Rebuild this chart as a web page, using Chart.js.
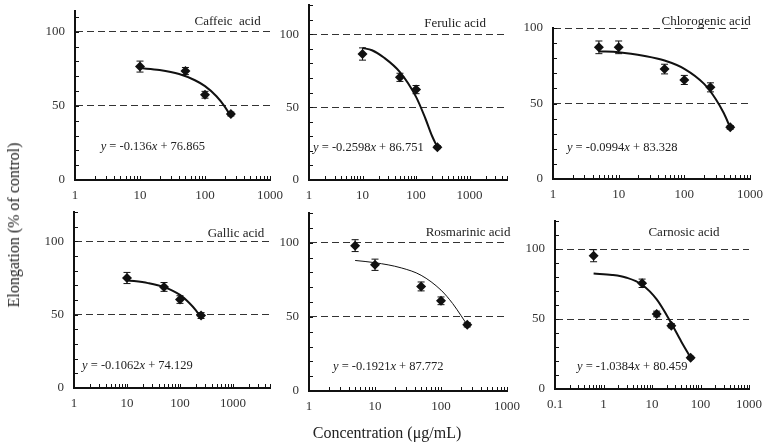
<!DOCTYPE html>
<html>
<head>
<meta charset="utf-8">
<script src="https://cdn.jsdelivr.net/npm/chart.js@4.4.1/dist/chart.umd.min.js"></script>
<style>
  html, body { margin: 0; padding: 0; background: #fff; }
  #wrap { position: relative; width: 764px; height: 448px; overflow: hidden; background: #fff; }
  #wrap canvas { position: absolute; left: 0; top: 0; }
  .atitle { position: absolute; font-family: "Liberation Serif", serif; font-size: 16px; color: #222; white-space: nowrap; }
</style>
</head>
<body>
<div id="wrap">
  <canvas id="c0" width="764" height="448"></canvas>
  <canvas id="c1" width="764" height="448"></canvas>
  <canvas id="c2" width="764" height="448"></canvas>
  <canvas id="c3" width="764" height="448"></canvas>
  <canvas id="c4" width="764" height="448"></canvas>
  <canvas id="c5" width="764" height="448"></canvas>
  <div class="atitle" style="left:14px; top:225px; transform: translate(-50%,-50%) rotate(-90deg);">Elongation (% of control)</div>
  <div class="atitle" style="left:387px; top:433px; transform: translate(-50%,-50%);">Concentration (μg/mL)</div>
</div>
<script>
// panel names and trend line equations
const acidNames = ['Caffeic  acid', 'Ferulic acid', 'Chlorogenic acid', 'Gallic acid', 'Rosmarinic acid', 'Carnosic acid'];
const slopes = ['-0.136', '-0.2598', '-0.0994', '-0.1062', '-0.1921', '-1.0384'];
const intercepts = ['76.865', '86.751', '83.328', '74.129', '87.772', '80.459'];

// measured points (concentration in µg/mL, elongation in % of control, error)
const caffeicConc = [10, 50, 100, 250];
const caffeicElong = [76.5, 73.5, 57.5, 44.5];
const caffeicErr = [3.7, 2.4, 2.3, 1.3];
const ferulicConc = [10, 50, 100, 250];
const ferulicElong = [86.4, 70.4, 62, 22.5];
const ferulicErr = [4.2, 2.8, 2.8, 1];
const chloroConc = [5, 10, 50, 100, 250, 500];
const chloroElong = [87.2, 87.2, 72.8, 65.6, 60.7, 34.2];
const chloroErr = [4.2, 4.2, 3.2, 3, 3, 1.2];
const gallicConc = [10, 50, 100, 250];
const gallicElong = [75, 68.9, 60.3, 49.4];
const gallicErr = [3.8, 3, 2.6, 2];
const rosmaConc = [5, 10, 50, 100, 250];
const rosmaElong = [98, 85.1, 70.5, 60.8, 44.6];
const rosmaErr = [4, 3.8, 3, 2.6, 1.4];
const carnoConc = [0.625, 6.25, 12.5, 25, 62.5];
const carnoElong = [95.2, 75.5, 53.6, 45.2, 22.4];
const carnoErr = [4.3, 3, 2, 1.5, 1];

// trend curves
const caffeicFitX = [10, 20, 40, 70, 100, 150, 200, 250];
const caffeicFitY = [75.5, 74.2, 71.5, 67.3, 63.3, 56.5, 49.7, 43];
const ferulicFitX = [10, 15, 25, 50, 100, 150, 200, 250];
const ferulicFitY = [90.5, 89, 84, 74, 57, 42, 30, 22.5];
const chloroFitX = [5, 10, 25, 50, 100, 200, 300, 400, 500];
const chloroFitY = [84.5, 84, 81.5, 78.5, 73, 63, 53, 43.5, 34];
const gallicFitX = [10, 25, 50, 100, 150, 200, 250];
const gallicFitY = [73.5, 71.5, 68.8, 63.5, 58, 53, 48];
const rosmaFitX = [5, 10, 25, 50, 100, 150, 200, 250];
const rosmaFitY = [88, 86.5, 83, 78, 68, 59, 51, 44.5];
const carnoFitX = [0.625, 1.5, 3, 6.25, 12.5, 25, 40, 62.5];
const carnoFitY = [82.5, 81.5, 79.5, 74.5, 64, 47, 34, 22.5];

// axis tick labels
const xLabelsA = [1, 10, 100, 1000];
const xLabelsC = [0.1, 1, 10, 100, 1000];
const yLabels = [0, 50, 100];

// layout of each panel (pixels) and axis ranges
const panelBox = [
  { left: 75, right: 270, top: 11, bottom: 180, xmin: 1, xmax: 1000, ymax: 114, labels: xLabelsA },
  { left: 309, right: 507, top: 3, bottom: 180, xmin: 1, xmax: 5000, ymax: 120, labels: xLabelsA },
  { left: 553, right: 750, top: 28, bottom: 179, xmin: 1, xmax: 1000, ymax: 100, labels: xLabelsA },
  { left: 74, right: 270, top: 212, bottom: 388, xmin: 1, xmax: 5000, ymax: 120, labels: xLabelsA },
  { left: 309, right: 507, top: 213, bottom: 391, xmin: 1, xmax: 1000, ymax: 120, labels: xLabelsA },
  { left: 555, right: 749, top: 221, bottom: 389, xmin: 0.1, xmax: 1000, ymax: 120, labels: xLabelsC }
];
// where the panel name (centre) and the equation (left edge) sit, in data units
const namePos = [[223, 107], [536, 107.2], [215, 104.2], [1140, 105.6], [257, 107], [45.7, 111.6]];
const eqPos = [[2.48, 22.5], [1.19, 22.1], [1.63, 21], [1.42, 15], [2.31, 16.4], [0.284, 15.9]];

const series = [
  [caffeicConc, caffeicElong, caffeicErr, caffeicFitX, caffeicFitY],
  [ferulicConc, ferulicElong, ferulicErr, ferulicFitX, ferulicFitY],
  [chloroConc, chloroElong, chloroErr, chloroFitX, chloroFitY],
  [gallicConc, gallicElong, gallicErr, gallicFitX, gallicFitY],
  [rosmaConc, rosmaElong, rosmaErr, rosmaFitX, rosmaFitY],
  [carnoConc, carnoElong, carnoErr, carnoFitX, carnoFitY]
];

const FONT = '"Liberation Serif", "Times New Roman", serif';
const INK = '#111';

// minor log ticks between the labelled decades
function logTicks(min, max) {
  let out = [];
  for (let dec = min; dec < max; dec *= 10) {
    for (let d = 1; d < 10; d++) {
      let v = dec * d;
      if (v > max * 1.0001) break;
      out.push(v);
    }
  }
  out.push(max);
  return out;
}

function zeroPad(s) {
  s.paddingLeft = 0; s.paddingRight = 0; s.paddingTop = 0; s.paddingBottom = 0;
}

const decoPlugin = {
  id: 'deco',
  afterDatasetsDraw(chart) {
    // error bars
    const ctx = chart.ctx;
    const y = chart.scales.y;
    const meta = chart.getDatasetMeta(0);
    const errs = chart.data.datasets[0].errors;
    ctx.save();
    ctx.strokeStyle = INK;
    ctx.lineWidth = 1;
    meta.data.forEach((pt, i) => {
      const v = chart.data.datasets[0].data[i].y;
      const yTop = y.getPixelForValue(v + errs[i]);
      const yBot = y.getPixelForValue(v - errs[i]);
      ctx.beginPath();
      ctx.moveTo(pt.x, yTop); ctx.lineTo(pt.x, yBot);
      ctx.moveTo(pt.x - 3.5, yTop); ctx.lineTo(pt.x + 3.5, yTop);
      ctx.moveTo(pt.x - 3.5, yBot); ctx.lineTo(pt.x + 3.5, yBot);
      ctx.stroke();
    });
    ctx.restore();
  },
  afterDraw(chart) {
    const ctx = chart.ctx;
    const area = chart.chartArea;
    const x = chart.scales.x, y = chart.scales.y;
    const k = chart.options.plugins.deco.index;
    ctx.save();
    // inside tick marks
    ctx.strokeStyle = INK;
    ctx.lineWidth = 1;
    x.ticks.forEach(t => {
      const px = Math.round(x.getPixelForValue(t.value)) + 0.5;
      ctx.beginPath(); ctx.moveTo(px, area.bottom); ctx.lineTo(px, area.bottom - 4); ctx.stroke();
    });
    y.ticks.forEach(t => {
      const py = Math.round(y.getPixelForValue(t.value)) + 0.5;
      ctx.beginPath(); ctx.moveTo(area.left, py); ctx.lineTo(area.left + 4, py); ctx.stroke();
    });
    // panel name
    ctx.fillStyle = '#222';
    ctx.textBaseline = 'middle';
    ctx.textAlign = 'center';
    ctx.font = '13px ' + FONT;
    ctx.fillText(acidNames[k], x.getPixelForValue(namePos[k][0]), y.getPixelForValue(namePos[k][1]));
    // equation with italic y and x
    const parts = [['y', true], [' = ' + slopes[k], false], ['x', true], [' + ' + intercepts[k], false]];
    let ex = x.getPixelForValue(eqPos[k][0]);
    const ey = y.getPixelForValue(eqPos[k][1]);
    ctx.textAlign = 'left';
    parts.forEach(p => {
      ctx.font = (p[1] ? 'italic ' : '') + '12.5px ' + FONT;
      ctx.fillText(p[0], ex, ey);
      ex += ctx.measureText(p[0]).width;
    });
    ctx.restore();
  }
};

for (let k = 0; k < 6; k++) {
  const b = panelBox[k];
  const s = series[k];
  const pts = s[0].map((c, i) => ({ x: c, y: s[1][i] }));
  const fit = s[3].map((c, i) => ({ x: c, y: s[4][i] }));
  const xTicks = logTicks(b.xmin, b.xmax);
  const yTicks = [];
  for (let v = 0; v <= b.ymax; v += 10) yTicks.push(v);

  new Chart(document.getElementById('c' + k), {
    type: 'scatter',
    data: {
      datasets: [
        {
          data: pts,
          errors: s[2],
          pointStyle: 'rectRot',
          pointRadius: 5,
          backgroundColor: INK,
          borderColor: INK,
          borderWidth: 0
        },
        {
          data: fit,
          showLine: true,
          pointRadius: 0,
          borderColor: INK,
          borderWidth: k === 4 ? 1 : 2,
          cubicInterpolationMode: 'monotone'
        }
      ]
    },
    options: {
      responsive: false,
      animation: false,
      devicePixelRatio: 1,
      layout: {
        padding: { left: b.left - 40, top: b.top, right: 764 - b.right, bottom: 448 - b.bottom - 30 }
      },
      plugins: {
        legend: { display: false },
        tooltip: { enabled: false },
        deco: { index: k }
      },
      scales: {
        x: {
          type: 'logarithmic',
          min: b.xmin,
          max: b.xmax,
          afterBuildTicks: sc => { sc.ticks = xTicks.map(v => ({ value: v })); },
          afterFit: sc => { sc.height = 30; zeroPad(sc); },
          grid: { display: false, drawTicks: false },
          border: { display: true, color: INK, width: 2 },
          ticks: {
            autoSkip: false,
            maxRotation: 0,
            padding: 8,
            color: '#333',
            font: { family: FONT, size: 13 },
            callback: v => b.labels.includes(v) ? String(v) : ''
          }
        },
        y: {
          min: 0,
          max: b.ymax,
          afterBuildTicks: sc => { sc.ticks = yTicks.map(v => ({ value: v })); },
          afterFit: sc => { sc.width = 40; zeroPad(sc); },
          grid: {
            drawTicks: false,
            lineWidth: 1,
            color: c => (c.tick && (c.tick.value === 50 || c.tick.value === 100)) ? '#333' : 'rgba(0,0,0,0)'
          },
          border: { display: true, color: INK, width: 2, dash: [7, 4] },
          ticks: {
            autoSkip: false,
            padding: 10,
            color: '#333',
            font: { family: FONT, size: 13 },
            callback: v => yLabels.includes(v) ? String(v) : ''
          }
        }
      }
    },
    plugins: [decoPlugin]
  });
}
</script>
</body>
</html>
